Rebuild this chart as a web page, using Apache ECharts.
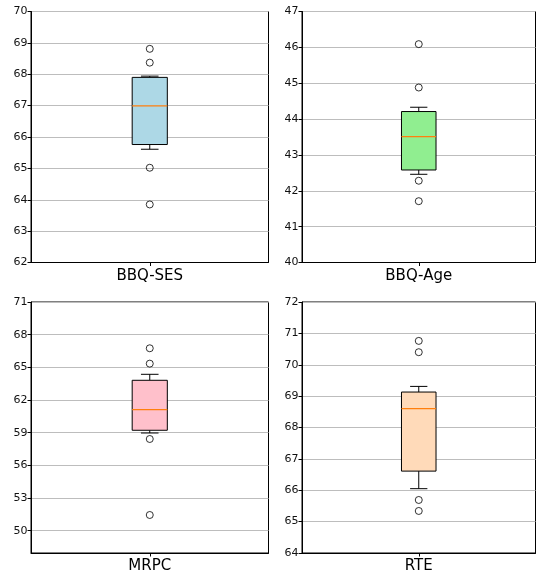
<!DOCTYPE html>
<html>
<head>
<meta charset="utf-8">
<script src="https://cdn.jsdelivr.net/npm/echarts@6/dist/echarts.min.js"></script>
<style>html,body{margin:0;padding:0;background:#fff;}#c{width:537px;height:575px;}</style>
</head>
<body>
<div id="c"></div>
<script>
// Panel names
const categories = ['BBQ-SES', 'BBQ-Age', 'MRPC', 'RTE'];
// Box statistics: [lower whisker, Q1, median, Q3, upper whisker]
const boxBBQSES = [65.61, 65.76, 66.99, 67.90, 67.94];
const boxBBQAge = [42.46, 42.58, 43.51, 44.21, 44.33];
const boxMRPC   = [58.97, 59.22, 61.11, 63.81, 64.36];
const boxRTE    = [66.05, 66.61, 68.60, 69.13, 69.31];
// Outliers
const outBBQSES = [68.81, 68.37, 65.02, 63.85];
const outBBQAge = [46.09, 44.88, 42.28, 41.71];
const outMRPC   = [66.75, 65.34, 58.42, 51.44];
const outRTE    = [70.76, 70.40, 65.69, 65.34];
// Y axis ranges and tick labels
const yMin = [62, 40, 47.95, 64];
const yMax = [70, 47, 71, 72];
const ticksBBQSES = [62, 63, 64, 65, 66, 67, 68, 69, 70];
const ticksBBQAge = [40, 41, 42, 43, 44, 45, 46, 47];
const ticksMRPC   = [50, 53, 56, 59, 62, 65, 68, 71];
const ticksRTE    = [64, 65, 66, 67, 68, 69, 70, 71, 72];

const boxes = [boxBBQSES, boxBBQAge, boxMRPC, boxRTE];
const outs = [outBBQSES, outBBQAge, outMRPC, outRTE];
const ticks = [ticksBBQSES, ticksBBQAge, ticksMRPC, ticksRTE];
const fills = ['#add8e6', '#90ee90', '#ffc0cb', '#ffdab9'];

const FONT = 'DejaVu Sans';
const grids = [
  {left: 31, top: 11.5, width: 237.5, height: 251},
  {left: 302, top: 11.5, width: 233.5, height: 251},
  {left: 31, top: 302, width: 237.5, height: 251},
  {left: 302, top: 302, width: 233.5, height: 251}
];

const option = {
  animation: false,
  backgroundColor: '#fff',
  grid: grids.map(g => Object.assign({show: true, borderColor: '#000', borderWidth: 1, containLabel: false}, g)),
  xAxis: categories.map((c, i) => ({
    type: 'category', gridIndex: i, data: [c],
    axisLine: {show: true, lineStyle: {color: '#000', width: 1}},
    axisTick: {show: true, alignWithLabel: true, length: 3.5, lineStyle: {color: '#000'}},
    axisLabel: {fontSize: 15, color: '#000', fontFamily: FONT, margin: 6},
    splitLine: {show: false}
  })),
  yAxis: categories.map((c, i) => ({
    type: 'value', gridIndex: i, min: yMin[i], max: yMax[i],
    axisLine: {show: true, lineStyle: {color: '#000', width: 1}},
    axisTick: {show: true, length: 3.5, lineStyle: {color: '#000'}, customValues: ticks[i]},
    axisLabel: {fontSize: 11, color: '#111', fontFamily: FONT, margin: 3.5, customValues: ticks[i], showMinLabel: true, showMaxLabel: true},
    splitLine: {show: true, lineStyle: {color: '#bdbdbd', width: 1}}
  })),
  series: []
};

categories.forEach((c, i) => {
  const b = boxes[i];
  option.series.push({
    type: 'custom', xAxisIndex: i, yAxisIndex: i, z: 3,
    data: [[0, b[0], b[1], b[2], b[3], b[4]]],
    encode: {x: 0, y: [1, 2, 3, 4, 5]},
    renderItem: function (params, api) {
      const band = api.size([1, 0])[0];
      const bw = band * 0.148;
      const cw = bw / 2;
      const pMin = api.coord([0, api.value(1)]);
      const pQ1 = api.coord([0, api.value(2)]);
      const pMed = api.coord([0, api.value(3)]);
      const pQ3 = api.coord([0, api.value(4)]);
      const pMax = api.coord([0, api.value(5)]);
      const cx = pMed[0];
      const ls = {stroke: '#000', lineWidth: 1};
      return {
        type: 'group',
        children: [
          {type: 'line', shape: {x1: cx, y1: pQ3[1], x2: cx, y2: pMax[1]}, style: ls},
          {type: 'line', shape: {x1: cx, y1: pQ1[1], x2: cx, y2: pMin[1]}, style: ls},
          {type: 'line', shape: {x1: cx - cw / 2, y1: pMax[1], x2: cx + cw / 2, y2: pMax[1]}, style: ls},
          {type: 'line', shape: {x1: cx - cw / 2, y1: pMin[1], x2: cx + cw / 2, y2: pMin[1]}, style: ls},
          {type: 'rect', shape: {x: cx - bw / 2, y: pQ3[1], width: bw, height: pQ1[1] - pQ3[1]},
            style: {fill: fills[i], stroke: '#000', lineWidth: 1}},
          {type: 'line', shape: {x1: cx - bw / 2, y1: pMed[1], x2: cx + bw / 2, y2: pMed[1]},
            style: {stroke: '#ff7f0e', lineWidth: 1.3}}
        ]
      };
    }
  });
  option.series.push({
    type: 'scatter', xAxisIndex: i, yAxisIndex: i, z: 4,
    data: outs[i].map(v => [0, v]),
    symbol: 'circle', symbolSize: 7,
    itemStyle: {color: 'rgba(255,255,255,0)', borderColor: '#000', borderWidth: 1}
  });
});

const chart = echarts.init(document.getElementById('c'), null, {renderer: 'canvas'});
chart.setOption(option);
</script>
</body>
</html>
